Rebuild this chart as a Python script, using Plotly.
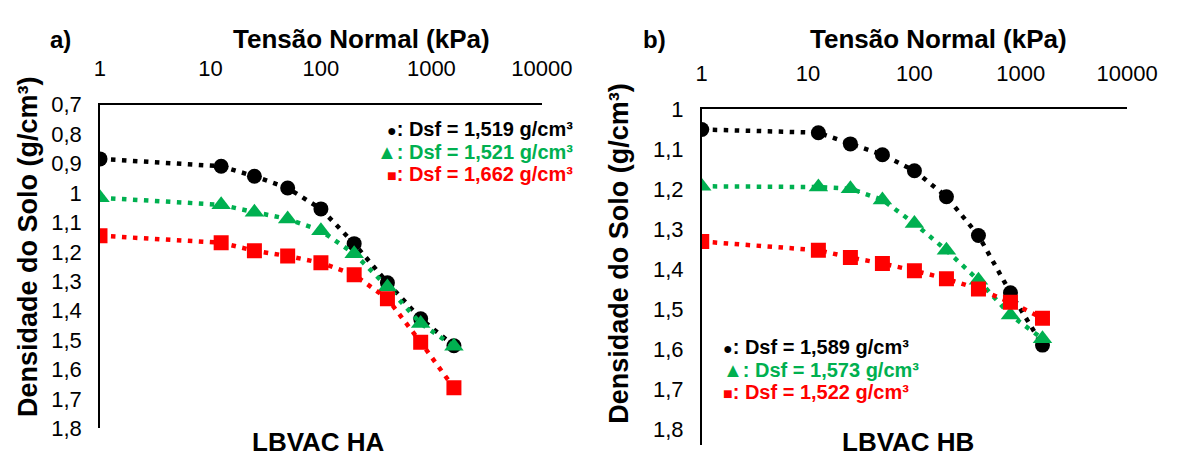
import plotly.graph_objects as go

# Applied normal stress (kPa)
stress = [1, 12.5, 25, 50, 100, 200, 400, 800, 1600]

# Panel a) LBVAC HA – soil bulk density (g/cm³)
ha_1519 = [0.884, 0.909, 0.943, 0.983, 1.054, 1.172, 1.305, 1.427, 1.519]
ha_1521 = [1.016, 1.040, 1.065, 1.088, 1.128, 1.206, 1.319, 1.443, 1.521]
ha_1662 = [1.145, 1.169, 1.196, 1.214, 1.237, 1.278, 1.359, 1.507, 1.662]

# Panel b) LBVAC HB – soil bulk density (g/cm³)
hb_1589 = [1.050, 1.058, 1.086, 1.113, 1.153, 1.218, 1.315, 1.458, 1.589]
hb_1573 = [1.192, 1.194, 1.198, 1.226, 1.285, 1.352, 1.427, 1.514, 1.573]
hb_1522 = [1.330, 1.352, 1.370, 1.385, 1.403, 1.423, 1.449, 1.482, 1.522]

# Axis ticks
x_ticks = [1, 10, 100, 1000, 10000]
x_ticktext = ["1", "10", "100", "1000", "10000"]
ya_ticks = [0.7, 0.8, 0.9, 1.0, 1.1, 1.2, 1.3, 1.4, 1.5, 1.6, 1.7, 1.8]
ya_ticktext = ["0,7", "0,8", "0,9", "1", "1,1", "1,2", "1,3", "1,4", "1,5", "1,6", "1,7", "1,8"]
yb_ticks = [1.0, 1.1, 1.2, 1.3, 1.4, 1.5, 1.6, 1.7, 1.8]
yb_ticktext = ["1", "1,1", "1,2", "1,3", "1,4", "1,5", "1,6", "1,7", "1,8"]

BLACK, GREEN, RED = "#000000", "#00B050", "#FF0000"
FONT = "Liberation Sans, Arial, sans-serif"
W, H = 1193, 467


def px_x(v):
    return v / W


def px_y(v):
    return 1 - v / H


def series(x, y, color, symbol, size, xa, ya):
    return go.Scatter(
        x=x, y=y, mode="lines+markers", xaxis=xa, yaxis=ya,
        line=dict(color=color, width=4.5, dash="4.5px,6.5px"),
        marker=dict(color=color, symbol=symbol, size=size, line=dict(width=0)),
        showlegend=False, hoverinfo="x+y",
    )


fig = go.Figure()
fig.add_trace(series(stress, ha_1519, BLACK, "circle", 15, "x", "y"))
fig.add_trace(series(stress, ha_1521, GREEN, "triangle-up", 17, "x", "y"))
fig.add_trace(series(stress, ha_1662, RED, "square", 15, "x", "y"))
fig.add_trace(series(stress, hb_1589, BLACK, "circle", 15, "x2", "y2"))
fig.add_trace(series(stress, hb_1573, GREEN, "triangle-up", 17, "x2", "y2"))
fig.add_trace(series(stress, hb_1522, RED, "square", 15, "x2", "y2"))

tickfont = dict(family=FONT, size=22, color="black")
common_x = dict(
    type="log", range=[0, 4], side="top", tickvals=x_ticks, ticktext=x_ticktext,
    showline=True, linecolor="black", linewidth=1.5, showgrid=False, zeroline=False,
    ticks="", tickfont=tickfont, ticklabelstandoff=18,
)
common_y = dict(
    autorange=False, showline=True, linecolor="black", linewidth=1.5, showgrid=False,
    zeroline=False, ticks="", tickfont=tickfont, ticklabelstandoff=12,
)

fig.update_layout(
    width=W, height=H, margin=dict(l=0, r=0, t=0, b=0),
    paper_bgcolor="white", plot_bgcolor="white",
    font=dict(family=FONT, color="black"),
    xaxis=dict(domain=[px_x(97), px_x(553)], anchor="y", **common_x),
    yaxis=dict(domain=[px_y(440), px_y(98)], anchor="x", range=[1.8, 0.7],
               tickvals=ya_ticks, ticktext=ya_ticktext, **common_y),
    xaxis2=dict(domain=[px_x(718), px_x(1157)], anchor="y2", **common_x),
    yaxis2=dict(domain=[px_y(458), px_y(103)], anchor="x2", range=[1.84, 1.0],
                tickvals=yb_ticks, ticktext=yb_ticktext, **common_y),
)

bold = lambda s: "<b>" + s + "</b>"
ann = []


def text(x, y, s, size, color="black", xanchor="center", angle=0):
    ann.append(dict(x=px_x(x), y=px_y(y), xref="paper", yref="paper", text=s,
                    showarrow=False, xanchor=xanchor, yanchor="middle", textangle=angle,
                    font=dict(family=FONT, size=size, color=color)))


# Panel labels and axis titles
text(56, 29, bold("a)"), 24)
text(669, 29, bold("b)"), 24)
text(367, 29, bold("Tensão Normal (kPa)"), 26)
text(962, 29, bold("Tensão Normal (kPa)"), 26)
text(22, 248, bold("Densidade do Solo (g/cm³)"), 27, angle=-90)
text(633, 255, bold("Densidade do Solo (g/cm³)"), 27, angle=-90)
text(322, 454, bold("LBVAC HA"), 26)
text(931, 454, bold("LBVAC HB"), 26)

# Series keys
dot = "<span style='font-size:16px'>●</span>"
sq = "<span style='font-size:16px'>■</span>"
tri = "▲"
text(587, 124, bold(dot + ": Dsf = 1,519 g/cm³"), 20, BLACK, "right")
text(587, 148, bold(tri + ": Dsf = 1,521 g/cm³"), 20, GREEN, "right")
text(587, 171, bold(sq + ": Dsf = 1,662 g/cm³"), 20, RED, "right")
text(738, 354, bold(dot + ": Dsf = 1,589 g/cm³"), 20, BLACK, "left")
text(738, 378, bold(tri + ": Dsf = 1,573 g/cm³"), 20, GREEN, "left")
text(738, 401, bold(sq + ": Dsf = 1,522 g/cm³"), 20, RED, "left")

fig.update_layout(annotations=ann)
fig.write_html("out.html")
